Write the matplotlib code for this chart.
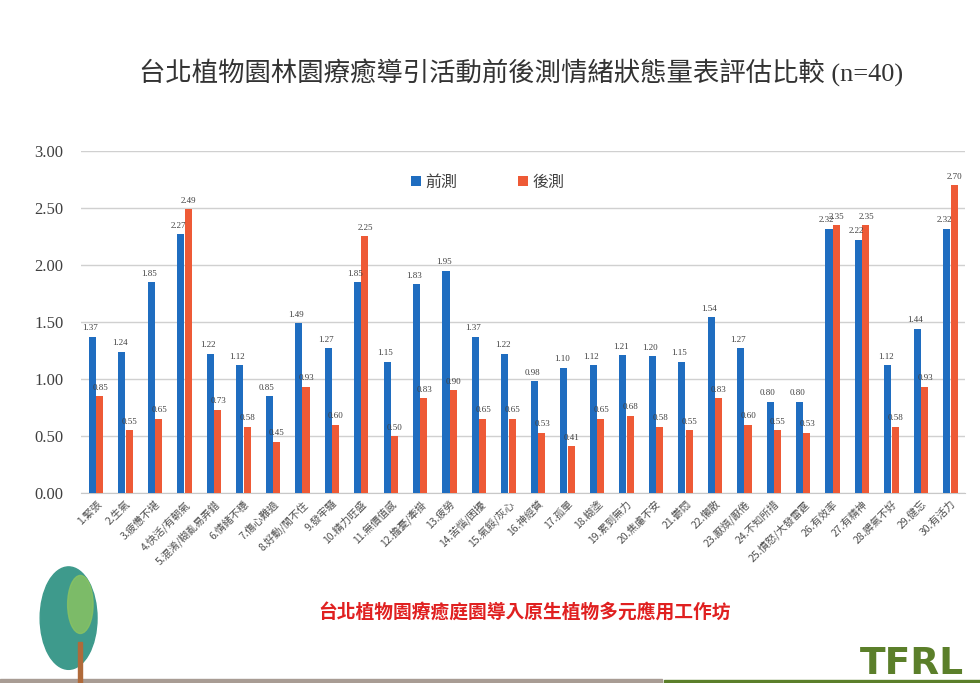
import matplotlib
matplotlib.use("Agg")
import matplotlib.pyplot as plt
import numpy as np
from matplotlib.patches import Ellipse, Rectangle

plt.rcParams['font.family'] = ['Noto Sans CJK TC', 'DejaVu Sans']

categories = ["1.緊張", "2.生氣", "3.疲憊不堪", "4.快活/有朝氣", "5.混淆/糊亂易弄錯",
              "6.情緒不穩", "7.傷心難過", "8.好動/閒不住", "9.發牢騷", "10.精力旺盛",
              "11.無價值感", "12.擔憂/牽掛", "13.疲勞", "14.苦惱/困擾", "15.氣餒/灰心",
              "16.神經質", "17.孤單", "18.糊塗", "19.累到無力", "20.焦慮不安",
              "21.鬱悶", "22.懶散", "23.厭煩/厭倦", "24.不知所措", "25.憤怒/大發雷霆",
              "26.有效率", "27.有精神", "28.脾氣不好", "29.健忘", "30.有活力"]
pre = [1.37, 1.24, 1.85, 2.27, 1.22, 1.12, 0.85, 1.49, 1.27, 1.85,
       1.15, 1.83, 1.95, 1.37, 1.22, 0.98, 1.10, 1.12, 1.21, 1.20,
       1.15, 1.54, 1.27, 0.80, 0.80, 2.32, 2.22, 1.12, 1.44, 2.32]
post = [0.85, 0.55, 0.65, 2.49, 0.73, 0.58, 0.45, 0.93, 0.60, 2.25,
        0.50, 0.83, 0.90, 0.65, 0.65, 0.53, 0.41, 0.65, 0.68, 0.58,
        0.55, 0.83, 0.60, 0.55, 0.53, 2.35, 2.35, 0.58, 0.93, 2.70]
series_names = ["前測", "後測"]
yticks = [0.0, 0.5, 1.0, 1.5, 2.0, 2.5, 3.0]
title = "台北植物園林園療癒導引活動前後測情緒狀態量表評估比較 (n=40)"
footer = "台北植物園療癒庭園導入原生植物多元應用工作坊"

blue = "#1F6DC0"
red = "#EE5A36"

fig = plt.figure(figsize=(9.8, 6.83), dpi=100)
fig.patch.set_facecolor("white")
ax = fig.add_axes([0.083, 0.278, 0.902, 0.501])

x = np.arange(len(categories))
w = 0.24
ax.bar(x - 0.125, pre, w, color=blue, label=series_names[0], zorder=3)
ax.bar(x + 0.125, post, w, color=red, label=series_names[1], zorder=3)

for xi, v in zip(x, pre):
    ax.text(xi - 0.2, v + 0.04, f"{v:.2f}", ha="center", va="bottom", fontsize=6.5,
            family=["Liberation Serif"], color="#404040", zorder=4)
for xi, v in zip(x, post):
    ax.text(xi + 0.14, v + 0.04, f"{v:.2f}", ha="center", va="bottom", fontsize=6.5,
            family=["Liberation Serif"], color="#404040", zorder=4)

ax.set_xlim(-0.5, len(categories) - 0.5)
ax.set_ylim(0, 3.0)
ax.set_yticks(yticks)
ax.set_yticklabels([f"{t:.2f}" for t in yticks], family=["Liberation Serif"], fontsize=12, color="#404040")
ax.yaxis.grid(True, color="#D0D0D0", linewidth=1.0, zorder=0)
ax.tick_params(axis="y", length=0, pad=13)
ax.tick_params(axis="x", length=0, pad=4)
ax.set_xticks(x)
ax.set_xticklabels(categories, rotation=45, ha="right", rotation_mode="anchor",
                   fontsize=7.5, color="#505050")
for s in ["top", "right", "left"]:
    ax.spines[s].set_visible(False)
ax.spines["bottom"].set_color("#C8C8C8")

leg = ax.legend(loc="upper center", bbox_to_anchor=(0.46, 0.975), ncol=2, frameon=False,
                fontsize=11.5, handlelength=0.6, handleheight=0.6, handletextpad=0.3,
                columnspacing=3.8)
for t in leg.get_texts():
    t.set_color("#404040")

fig.text(0.532, 0.895, title, ha="center", va="center", fontsize=19, color="#333333",
         family=["Liberation Serif", "Noto Sans CJK TC"], fontweight="light")
fig.text(0.535, 0.103, footer, ha="center", va="center", fontsize=13.5, color="#E02020",
         fontweight="bold")

# decorations: bottom lines, tree, logo
fig.patches.append(Rectangle((0, 0.0), 0.675, 0.006, transform=fig.transFigure,
                             color="#A89C94", zorder=1))
fig.patches.append(Rectangle((0.678, 0.0), 0.322, 0.004, transform=fig.transFigure,
                             color="#5B7F2A", zorder=1))
fig.patches.append(Ellipse((0.07, 0.095), 0.058, 0.15, transform=fig.transFigure,
                           color="#3E9A8C", zorder=1))
fig.patches.append(Ellipse((0.082, 0.115), 0.026, 0.085, transform=fig.transFigure,
                           color="#8CC460", zorder=1, alpha=0.8))
fig.patches.append(Rectangle((0.0795, 0.0), 0.004, 0.06, transform=fig.transFigure,
                             color="#B06A3A", zorder=2))
fig.text(0.931, 0.002, "TFRL", ha="center", va="bottom", fontsize=27, fontweight="bold",
         color="#5B7F2A", family=["Liberation Sans Narrow", "DejaVu Sans"])

fig.savefig("out.png", dpi=100, facecolor="white")
